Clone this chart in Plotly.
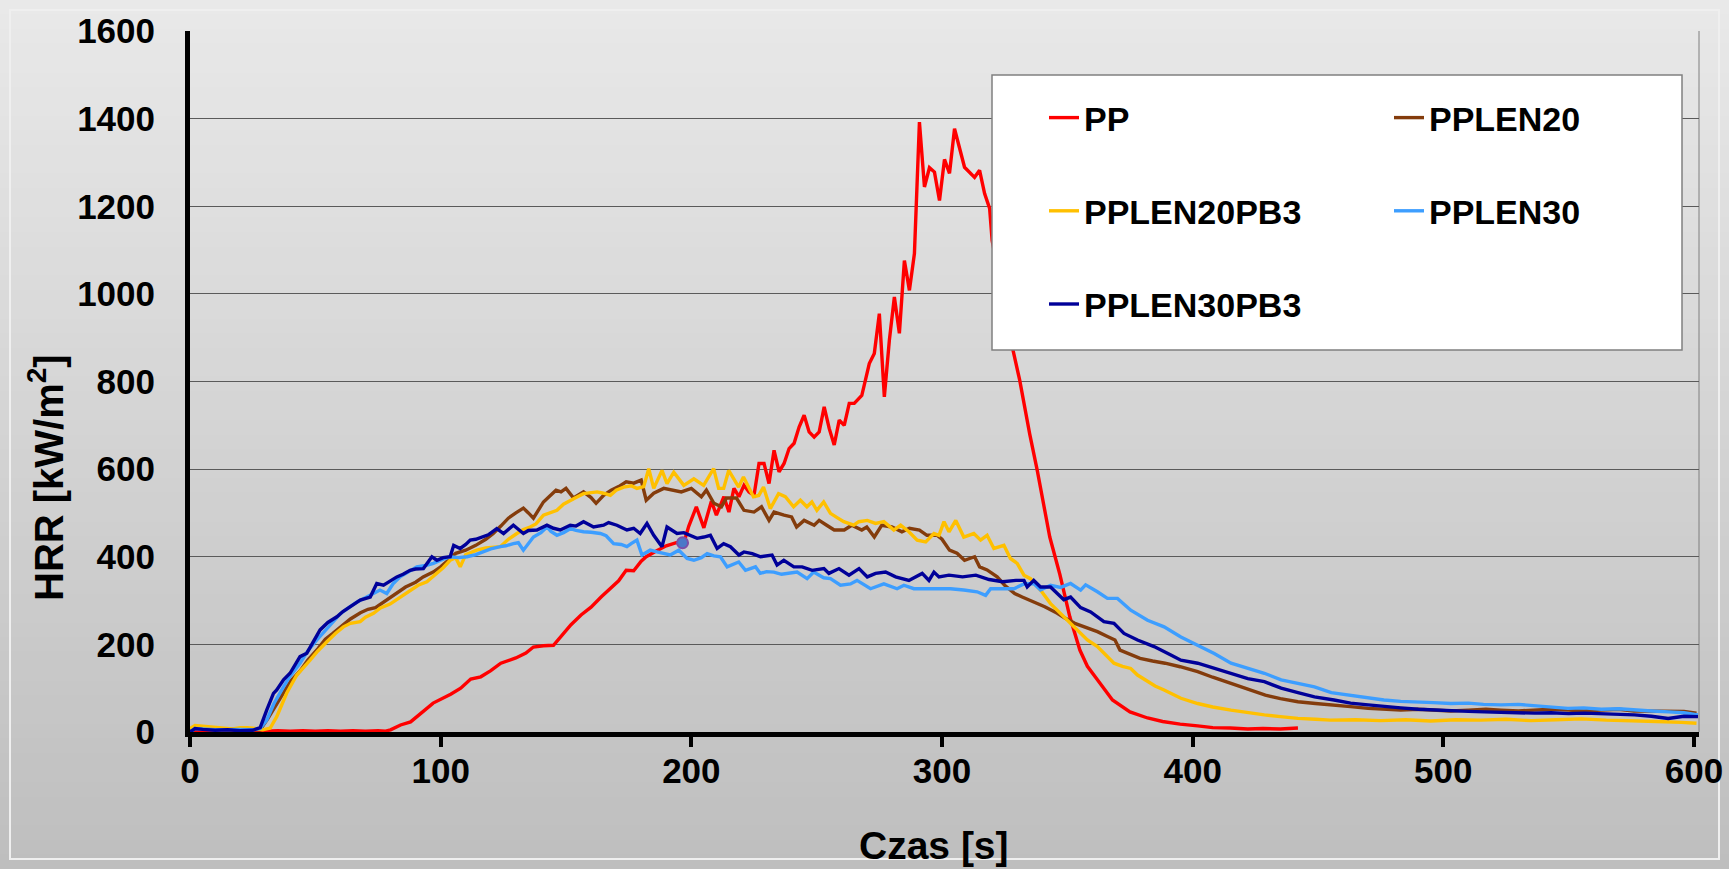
import plotly.graph_objects as go

# ---------------- data (time [s], HRR [kW/m2]) ----------------
pp_data = [(0,3),(2,4),(5,3),(10,2),(15,3),(20,2),(25,3),(30,2),(35,3),(40,2),(45,3),(50,2),(55,3),(60,2),(65,3),(70,2),(75,3),(78,2),
           (80,5),(84,16),(88,23),(92,43),(97,66),(104,86),(108,100),(112,121),(116,126),(120,140),(124,157),(130,169),(134,180),
           (137,194),(141,197),(145,198),(149,225),(152,245),(156,267),(160,285),(164,308),(168,330),(171,345),(174,369),(177,368),
           (180,390),(182,400),(186,413),(190,425),(194,432),(197,432),(199,470),(202,514),(205,466),(208,527),(210,495),(213,537),
           (215,502),(217,556),(219,537),(221,563),(223,548),(225,540),(227,613),(229,613),(231,567),(233,643),(235,594),(237,613),
           (239,647),(241,659),(243,696),(245,723),(247,685),(249,673),(251,685),(253,742),(255,693),(257,655),(259,712),(261,700),
           (263,750),(265,750),(268,768),(271,841),(273,864),(275,955),(277,765),(279,894),(281,993),(283,910),(285,1076),(287,1008),
           (289,1092),(290,1236),(291,1392),(293,1244),(295,1288),(297,1278),(299,1213),(301,1307),(303,1275),(305,1377),(309,1289),
           (313,1266),(315,1282),(317,1229),(319,1195),(320,1122),(324,1000),(328,880),(331,803),(333,739),(335,680),(338,597),
           (340,540),(343,445),(347,360),(351,263),(355,187),(358,150),(362,119),(368,73),(375,46),(382,32),(388,24),(395,18),
           (402,14),(408,10),(415,9),(422,7),(428,8),(435,7),(442,9)]

pplen20_data = [(0,0),(2,10),(5,8),(10,6),(15,5),(20,7),(25,6),(28,5),(31,30),(35,68),(40,115),(44,140),(47,164),(51,190),(54,212),
                (57,225),(61,245),(64,258),(68,272),(71,280),(74,284),(78,300),(82,315),(86,331),(90,342),(93,354),(97,365),(100,377),
                (103,392),(106,408),(110,415),(114,426),(118,440),(121,453),(124,470),(127,488),(130,500),(133,511),(135,500),(137,488),
                (141,525),(144,540),(146,552),(148,548),(150,556),(153,534),(157,548),(160,535),(162,522),(165,540),(168,552),(171,560),
                (174,571),(177,568),(180,575),(182,529),(185,545),(189,556),(192,552),(196,548),(200,556),(204,537),(206,552),(209,522),
                (212,514),(214,534),(218,534),(221,506),(225,502),(228,514),(231,483),(233,502),(237,495),(240,491),(242,468),(245,483),
                (249,472),(251,483),(254,472),(257,461),(261,461),(264,472),(268,461),(270,468),(273,445),(276,472),(280,468),(284,457),
                (287,465),(291,461),(294,449),(298,449),(300,440),(303,415),(306,408),(309,392),(313,400),(315,377),(318,370),(322,354),
                (325,335),(329,316),(332,308),(335,301),(338,293),(341,286),(346,271),(349,260),(353,248),(358,238),(362,229),(366,218),
                (369,210),(371,187),(375,178),(379,168),(384,162),(389,157),(395,149),(402,138),(408,125),(415,111),(422,97),(429,84),
                (435,76),(442,69),(449,65),(456,62),(463,58),(470,54),(477,52),(483,50),(490,52),(497,50),(503,48),(510,50),(517,52),
                (523,50),(530,48),(536,50),(543,52),(550,50),(556,48),(563,50),(570,52),(576,48),(583,47),(590,46),(596,47),(601,43)]

pplen20pb3_data = [(0,8),(2,15),(4,14),(8,12),(12,10),(17,7),(20,10),(23,10),(26,8),(29,5),(32,9),(34.6,35),(38.6,89),(42.6,130),
                   (47.9,164),(51,185),(54.6,206),(58,225),(61.2,240),(64,248),(67.9,252),(70,262),(73.2,271),(76,283),(79.8,292),
                   (84,308),(87.8,324),(91,335),(94.5,343),(98.5,362),(101,375),(103.8,392),(106,398),(107.8,377),(110,405),
                   (114.4,415),(118,420),(123.8,423),(127,440),(130.4,453),(133,462),(135.7,468),(138,475),(141,495),(144,500),
                   (146.4,506),(149,520),(151.7,529),(154,535),(157,544),(160,546),(162.4,548),(165,545),(167.7,540),(170,552),
                   (173,559),(176,562),(178.3,556),(181,560),(183,601),(185,556),(188.3,597),(190.3,567),(193,593),(197,563),
                   (201,578),(204.9,563),(208.9,601),(210.9,556),(212.9,556),(214.9,597),(218.9,559),(220.8,582),(224.8,537),
                   (226.9,540),(228.8,559),(231.5,510),(234.8,544),(237.5,537),(240.8,514),(243.5,529),(246.1,514),(248.1,525),
                   (250.1,506),(252.8,525),(255.5,499),(258,490),(260.8,480),(264.8,472),(266.8,480),(270.2,483),(273.5,476),
                   (276.8,480),(280.8,461),(283.5,472),(286.8,457),(290.1,438),(293.5,434),(296.8,453),(298.8,449),(300.8,480),
                   (302.8,457),(305.5,483),(308.7,445),(312.7,453),(315.4,438),(318,449),(320.7,419),(324.7,426),(327.3,396),
                   (330,385),(332.7,358),(335.3,350),(339.3,324),(343.3,293),(347.3,271),(351.3,248),(355.3,225),(358,210),
                   (362,195),(365,178),(368.6,157),(372,150),(375.3,145),(378,130),(382,115),(385,105),(388.6,96),(392,86),
                   (395.3,77),(402,65),(408,57),(415.3,50),(422,44),(428.6,39),(435,35),(442,31),(449,29),(455,27),(465,28),
                   (475,26),(485,28),(495,25),(505,28),(515,27),(525,29),(535,26),(545,28),(555,30),(565,27),(575,26),(585,24),
                   (595,22),(601,20)]

pplen30_data = [(0,0),(2,8),(5,7),(10,5),(15,5),(20,6),(25,5),(28,8),(30.6,27),(33.5,65),(37.3,103),(40,128),(43.9,157),(47,185),
                (50.6,210),(54,232),(57.2,252),(60,270),(63.9,286),(67,298),(70.5,308),(73,315),(75.8,324),(78.5,316),(81,338),
                (83.8,354),(87,365),(90.5,377),(94,380),(97.1,385),(100,392),(103.8,400),(107,398),(110.5,400),(114,405),(117.1,411),
                (120,418),(123.8,423),(126,425),(129,430),(131,432),(133,415),(135,430),(137,445),(140,455),(142.4,468),(144,458),
                (146.4,449),(149,455),(151.7,464),(154,460),(157,457),(160,456),(163.7,453),(166,448),(169,430),(172,428),(174.3,423),
                (176,430),(178.3,438),(180.3,404),(183.6,415),(186.3,411),(189,407),(191.6,404),(195,415),(198.3,396),(201,392),
                (204,398),(206.3,407),(209,402),(211.6,400),(214.3,377),(218.9,388),(221.6,369),(225.6,377),(227.5,362),(230,366),
                (232.9,365),(236,360),(238.2,362),(242.2,365),(246.2,350),(248.8,365),(252.8,352),(255.5,350),(259.5,335),(263.5,338),
                (266.1,346),(271.5,327),(276.8,338),(282.1,327),(284.8,335),(288.8,327),(294.1,327),(299.4,327),(303.4,327),
                (308.7,324),(314,320),(317.4,312),(319.4,327),(324.7,327),(328.7,327),(332.7,338),(336.6,339),(339.3,324),
                (343.3,335),(347.3,330),(351.3,339),(355.3,324),(357.3,336),(362,320),(366,305),(370,305),(375.3,278),(382,255),
                (388.6,240),(395.3,217),(402,198),(408.6,179),(415.3,157),(422,145),(428.6,134),(435.3,119),(442,111),(448.6,103),
                (455.3,90),(463,84),(470,78),(476.3,73),(483,70),(489.7,69),(496,67),(503,65),(510,66),(516,63),(523,62),(530,63),
                (536,60),(543,58),(549.7,54),(556,55),(563,52),(570,53),(576.3,50),(583,48),(590,46),(596,44),(601.6,39)]

pplen30pb3_data = [(0,0),(2,8),(5,6),(10,4),(15,5),(20,3),(25,4),(28,10),(30.6,50),(33.3,88),(34.6,96),(37.3,119),(39.9,134),
                   (43.9,172),(46.6,180),(49,205),(51.9,233),(55,250),(58.6,263),(61,275),(63.9,286),(67.9,301),(71.9,308),(74.5,339),
                   (77.2,335),(80,345),(82.5,354),(85,360),(87.8,369),(90,372),(93.1,373),(96.5,400),(98.5,392),(101,398),(103.8,400),
                   (105.2,426),(107.8,419),(110,428),(111.8,438),(114,440),(117.1,445),(119,450),(122.4,464),(125.1,453),(129,472),
                   (133,453),(135,460),(138.4,461),(142.4,472),(145,465),(147.7,461),(151.7,472),(154,470),(157,480),(161,468),
                   (165,472),(167,478),(170.3,472),(174.3,461),(177,465),(179.6,453),(182.3,476),(185,449),(188.3,423),(190.3,468),
                   (194.3,453),(197,455),(199.6,449),(202.3,442),(205,445),(207.6,449),(210.3,419),(212.9,430),(215.6,423),(219,404),
                   (221,411),(224.3,407),(227.6,400),(230,402),(232.2,404),(234.2,381),(236.9,392),(240.9,377),(244.2,377),(248.2,369),
                   (252.9,373),(254.9,362),(258.9,373),(262.9,358),(266.9,373),(270.2,354),(273.5,362),(277.5,365),(281.5,354),
                   (286.8,346),(292.1,362),(294.8,346),(296.8,365),(298.8,354),(302.8,358),(308.2,354),(313.5,358),(318.8,348),
                   (324.2,343),(329.5,346),(332.7,346),(334,331),(336.6,346),(339.3,331),(343.3,331),(346,316),(348.6,302),(351.3,308),
                   (355.3,284),(359.3,274),(364.6,252),(368.6,248),(372.6,225),(378,210),(384.6,195),(391.3,176),(395.3,164),(402,157),
                   (408.6,145),(415.3,134),(422,122),(428.6,115),(435.3,100),(442,90),(448.6,80),(456.4,73),(463,66),(470,62),
                   (476.3,58),(483,55),(490,52),(496.3,50),(503,48),(510,47),(516.3,46),(523,45),(530,44),(536.4,43),(543,44),(550,42),
                   (556.3,43),(563,42),(570,41),(576.3,39),(583,36),(589.7,31),(596,36),(601.6,35)]

highlight_point = (196.5, 432)

series_names = ["PP", "PPLEN20", "PPLEN20PB3", "PPLEN30", "PPLEN30PB3"]
series_data = [pp_data, pplen20_data, pplen20pb3_data, pplen30_data, pplen30pb3_data]
series_colors = ["#FF0000", "#843C0C", "#FFC000", "#3D9EFF", "#000099"]
series_legend = ["legend", "legend2", "legend", "legend2", "legend"]

x_ticks = [0, 100, 200, 300, 400, 500, 600]
y_ticks = [0, 200, 400, 600, 800, 1000, 1200, 1400, 1600]
x_title = "Czas [s]"
y_title = "HRR [kW/m<sup>2</sup>]"

FONT = "Liberation Sans, Arial, sans-serif"

fig = go.Figure()
for i, (name, data, color, leg) in enumerate(zip(series_names, series_data, series_colors, series_legend)):
    fig.add_trace(go.Scatter(
        x=[p[0] for p in data], y=[p[1] for p in data], mode="lines", name=name,
        line=dict(color=color, width=3.4), legend=leg, legendgroup=name,
    ))

fig.add_trace(go.Scatter(
    x=[highlight_point[0]], y=[highlight_point[1]], mode="markers", showlegend=False,
    marker=dict(size=11, color="#4A78C8", line=dict(color="#7B4FA8", width=2)),
))

# ---------------- geometry helpers (pixels -> paper) ----------------
plot_top, plot_bot = 31, 732
plot_l, plot_r = 190, 1699
ph = plot_bot - plot_top
pw = plot_r - plot_l
def py2paper(py):
    return (plot_bot - py) / ph
def px2paper(px):
    return (px - plot_l) / pw

# ---------------- background gradient ----------------
shapes = []
N = 60
c_top = (233, 233, 233)
c_bot = (190, 190, 190)
for k in range(N):
    fm = (k + 0.5) / N
    col = tuple(int(round(c_top[j] + (c_bot[j] - c_top[j]) * fm)) for j in range(3))
    y_a = 869 * k / N
    y_b = 869 * (k + 1) / N + 1
    shapes.append(dict(type="rect", xref="paper", yref="paper", x0=-0.2, x1=1.1,
                       y0=py2paper(y_b), y1=py2paper(y_a),
                       fillcolor="rgb(%d,%d,%d)" % col, line=dict(width=0), layer="below"))
# thin light frame
shapes.append(dict(type="rect", xref="paper", yref="paper", x0=px2paper(10), x1=px2paper(1719),
                   y0=py2paper(859), y1=py2paper(10), line=dict(color="#EFEFEF", width=2),
                   fillcolor="rgba(0,0,0,0)", layer="below"))
# right border of plot area
shapes.append(dict(type="line", xref="paper", yref="paper", x0=1, x1=1, y0=0, y1=1,
                   line=dict(color="#7F7F7F", width=1), layer="below"))
# legend box
shapes.append(dict(type="rect", xref="paper", yref="paper", x0=px2paper(992), x1=px2paper(1682),
                   y0=py2paper(350), y1=py2paper(75), fillcolor="white",
                   line=dict(color="#808080", width=1.5), layer="above"))

annotations = [
    dict(text=x_title, xref="paper", yref="paper", x=px2paper(934), y=py2paper(845), xanchor="center", yanchor="middle",
         showarrow=False, font=dict(size=39, family=FONT, weight="bold", color="black")),
    dict(text=y_title, xref="paper", yref="paper", x=px2paper(46), y=py2paper(478), xanchor="center", yanchor="middle",
         textangle=-90, showarrow=False, font=dict(size=40, family=FONT, weight="bold", color="black")),
]

fig.update_layout(
    width=1729, height=869,
    margin=dict(l=plot_l, r=1729 - plot_r, t=plot_top, b=869 - plot_bot, autoexpand=False),
    paper_bgcolor="#d4d4d4", plot_bgcolor="rgba(0,0,0,0)",
    font=dict(family=FONT, color="black", weight="bold"),
    shapes=shapes,
    annotations=annotations,
    xaxis=dict(range=[0, 602], tickvals=x_ticks, ticks="outside", ticklen=10, tickwidth=4, tickcolor="black",
               showline=True, linewidth=5, linecolor="black", showgrid=False, zeroline=False, automargin=False,
               tickfont=dict(size=35, family=FONT, weight="bold"), ticklabelstandoff=-6),
    yaxis=dict(range=[0, 1600], tickvals=y_ticks, ticks="", showline=True, linewidth=5, linecolor="black",
               showgrid=True, gridcolor="#5A5A5A", gridwidth=1, zeroline=False, automargin=False,
               tickfont=dict(size=35, family=FONT, weight="bold"), ticklabelstandoff=23),
    legend=dict(x=px2paper(1044), y=py2paper(89), xanchor="left", yanchor="top", bgcolor="rgba(0,0,0,0)",
                borderwidth=0, font=dict(size=34, family=FONT, weight="bold", color="black"),
                traceorder="grouped", tracegroupgap=46, itemwidth=30),
    legend2=dict(x=px2paper(1389), y=py2paper(89), xanchor="left", yanchor="top", bgcolor="rgba(0,0,0,0)",
                 borderwidth=0, font=dict(size=34, family=FONT, weight="bold", color="black"),
                 traceorder="grouped", tracegroupgap=46, itemwidth=30),
    showlegend=True,
)

fig.write_html(
    "out.html",
    config={"displayModeBar": False},
    post_script="document.body.style.margin='0px';document.body.style.padding='0px';"
                "document.body.style.overflow='hidden';",
)
